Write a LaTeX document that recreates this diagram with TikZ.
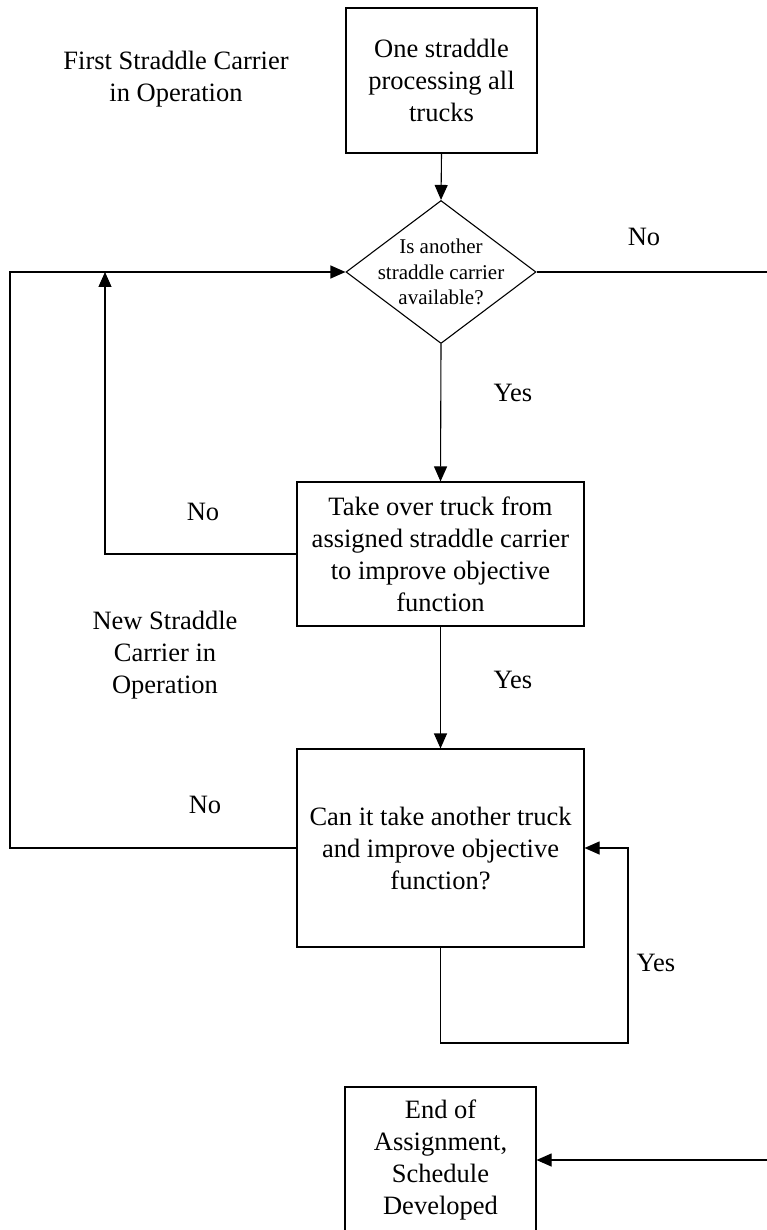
\documentclass[tikz,border=0pt]{standalone}
\usepackage{fontspec}
\setmainfont{Liberation Serif}
\usetikzlibrary{arrows.meta,shapes.geometric}
\begin{document}
\begin{tikzpicture}[x=1pt,y=-1pt,
  line width=1.1pt,
  arr/.style={-{Triangle[length=15pt,width=13pt]}},
  procbox/.style={draw,rectangle,align=center,inner sep=0pt,font=\fontsize{26.5}{32}\selectfont},
  lbl/.style={align=center,font=\fontsize{26.5}{32}\selectfont},
  dlbl/.style={align=center,font=\fontsize{21}{25.5}\selectfont}]
\useasboundingbox (0,0) rectangle (766,1230);

\node[procbox,minimum width=191pt,minimum height=145pt] (top) at (441.5,80.5) {One straddle\\processing all\\trucks};
\node[draw,diamond,minimum width=190pt,minimum height=143pt,inner sep=0pt] (d) at (441,272) {};
\node[dlbl] (dtext) at (d.center) {Is another\\straddle carrier\\available?};
\node[procbox,minimum width=287pt,minimum height=144pt] (box2) at (440.5,554) {Take over truck from\\assigned straddle carrier\\to improve objective\\function};
\node[procbox,minimum width=287pt,minimum height=198pt] (box3) at (440.5,848) {Can it take another truck\\and improve objective\\function?};
\node[procbox,minimum width=191pt,minimum height=146pt] (endb) at (440.5,1160) {End of\\Assignment,\\Schedule\\Developed};

\node[lbl] (first) at (176,79) {First Straddle Carrier\\in Operation};
\node[lbl] (newsc) at (165,655) {New Straddle\\Carrier in\\Operation};
\node[lbl] (no1) at (644,237) {No};
\node[lbl] (yes1) at (513,393) {Yes};
\node[lbl] (no2) at (203,512) {No};
\node[lbl] (yes2) at (513,680) {Yes};
\node[lbl] (no3) at (205,805) {No};
\node[lbl] (yes3) at (656,963) {Yes};

\coordinate (lTop) at (10,272);
\coordinate (upTip) at (105,272);
\coordinate (rEdge1) at (767,272);
\coordinate (rEdge2) at (767,1160);
\coordinate (lp) at (628,1043);

\draw[arr] (top.south) -- (d.north);
\draw (d.east) -- (rEdge1);
\draw[arr] (box3.west) -| (lTop) -- (d.west);
\draw[arr] (box2.west) -| (upTip);
\draw[arr] (d.south) -- (box2.north);
\draw[arr] (box2.south) -- (box3.north);
\draw[arr] (box3.south) |- (lp) |- (box3.east);
\draw[arr] (rEdge2) -- (endb.east);
\end{tikzpicture}
\end{document}
